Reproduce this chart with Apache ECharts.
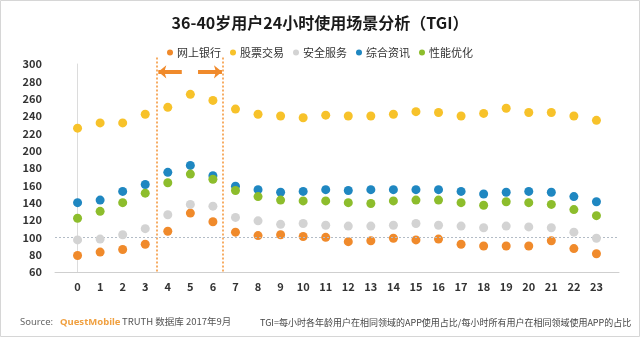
<!DOCTYPE html>
<html>
<head>
<meta charset="utf-8">
<script src="https://cdn.jsdelivr.net/npm/echarts@6/dist/echarts.min.js"></script>
<style>
html,body{margin:0;padding:0;background:#fff;}
#chart{width:640px;height:337px;}
</style>
</head>
<body>
<div id="chart"></div>
<script>
var hours = [0,1,2,3,4,5,6,7,8,9,10,11,12,13,14,15,16,17,18,19,20,21,22,23];
var seriesNames = ['网上银行','股票交易','安全服务','综合资讯','性能优化'];
var bank   = [79,83,86,92,107,128,118,106,102,103,101,100,95,96,99,97,98,92,90,90,90,96,87,81];
var stock  = [226,232,232,242,250,265,258,248,242,240,238,241,240,240,242,245,244,240,243,249,244,244,240,235];
var safety = [97,98,103,110,126,138,136,123,119,115,116,114,113,113,114,116,114,113,111,113,112,111,106,99];
var news   = [140,143,153,161,175,183,171,159,155,152,153,155,154,155,155,155,155,153,150,152,153,152,147,141];
var perf   = [122,130,140,151,163,173,167,154,147,143,142,142,140,139,142,143,143,140,137,141,140,138,132,125];
var colors = ['#f08a2b','#f7c22a','#d3d3d3','#1f87c1','#8dbd2c'];
var yTicks = {min:60, max:300, step:20};
var titleText = '36-40岁用户24小时使用场景分析（TGI）';
var sourceLabel = 'Source:';
var sourceBrand = 'QuestMobile';
var sourceRest = 'TRUTH 数据库 2017年9月';
var noteText = 'TGI=每小时各年龄用户在相同领域的APP使用占比/每小时所有用户在相同领域使用APP的占比';
var refLine = 100;
var periodStart = 3.5, periodEnd = 6.45;

var FONT = '"Noto Sans CJK SC","Noto Sans",sans-serif';
var allData = [bank, stock, safety, news, perf];

function pairs(arr){ return arr.map(function(v,i){ return [hours[i], v]; }); }

var series = allData.map(function(arr, k){
  return {
    name: seriesNames[k],
    type: 'scatter',
    data: pairs(arr),
    symbolSize: 9,
    itemStyle: {color: colors[k], opacity: 1},
    silent: true,
    z: 3 + k
  };
});

series[0].markLine = {
  silent: true,
  symbol: 'none',
  label: {show: false},
  animation: false,
  data: [
    [{coord:[-1, refLine], lineStyle:{color:'#b3bcc6', type:[2,2], width:1}}, {coord:[24, refLine]}],
    [{coord:[4.62, 291], symbol:'none', lineStyle:{color:'#f08a2b', type:'solid', width:4}}, {coord:[3.58, 291], symbol:'arrow', symbolSize:[10,8]}],
    [{coord:[5.34, 291], symbol:'none', lineStyle:{color:'#f08a2b', type:'solid', width:4}}, {coord:[6.4, 291], symbol:'arrow', symbolSize:[10,8]}]
  ]
};

var chart = echarts.init(document.getElementById('chart'), null, {renderer:'canvas'});
var option = {
  animation: false,
  backgroundColor: '#fff',
  color: colors,
  title: {
    text: titleText,
    left: 'center',
    top: 10,
    textStyle: {fontSize: 16, fontWeight: 'bold', color: '#1a1a1a', fontFamily: FONT}
  },
  legend: {
    data: seriesNames,
    top: 42,
    left: 'center',
    icon: 'circle',
    itemWidth: 6,
    itemHeight: 6,
    itemGap: 9,
    textStyle: {fontSize: 11, color: '#333', fontFamily: FONT, padding:[0,0,0,-1]}
  },
  grid: {left: 55, right: 21, top: 64, bottom: 65, containLabel: false},
  xAxis: {
    type: 'value',
    min: -1, max: 24, interval: 1,
    axisLine: {show: true, lineStyle: {color: '#cfcfcf'}},
    axisTick: {show: false},
    splitLine: {show: false},
    axisLabel: {
      margin: 9,
      fontSize: 11, fontWeight: 'bold', color: '#333', fontFamily: FONT,
      formatter: function(v){ return (v < 0 || v > 23) ? '' : String(v); }
    }
  },
  yAxis: {
    type: 'value',
    min: yTicks.min, max: yTicks.max, interval: yTicks.step,
    axisLine: {show: true, lineStyle: {color: '#dcdcdc'}},
    axisTick: {show: false},
    splitLine: {show: false},
    axisLabel: {margin: 13, fontSize: 11, fontWeight: 'bold', color: '#333', fontFamily: FONT}
  },
  graphic: [
    {type:'rect', shape:{x:0.5, y:0.5, width:639, height:336}, style:{fill:'none', stroke:'#d6d6d6', lineWidth:1}, silent:true},
    {type:'text', left:20, top:317, style:{text:sourceLabel, font:'9.5px "Noto Sans",sans-serif', fill:'#666'}},
    {type:'text', left:60, top:317, style:{text:sourceBrand, font:'bold 9.5px "Noto Sans",sans-serif', fill:'#f0a040'}},
    {type:'text', left:122, top:317, style:{text:sourceRest, font:'9.5px "Noto Sans CJK SC",sans-serif', fill:'#555'}},
    {type:'text', left:260, top:318, style:{text:noteText, font:'9px "Noto Sans CJK SC",sans-serif', fill:'#444'}}
  ],
  series: series
};
chart.setOption(option);

// vertical dotted period lines, positioned through the axis scales
var vlines = [periodStart, periodEnd].map(function(x){
  var top = chart.convertToPixel({gridIndex:0}, [x, 307.5]);
  var bot = chart.convertToPixel({gridIndex:0}, [x, 60]);
  var px = Math.round(top[0]);
  return {type:'line', silent:true, z:1,
    shape:{x1:px, y1:top[1], x2:px, y2:bot[1]},
    style:{stroke:'#f39233', lineWidth:1.5, lineDash:[2,2]}};
});
chart.setOption({graphic: option.graphic.concat(vlines)});
</script>
</body>
</html>
